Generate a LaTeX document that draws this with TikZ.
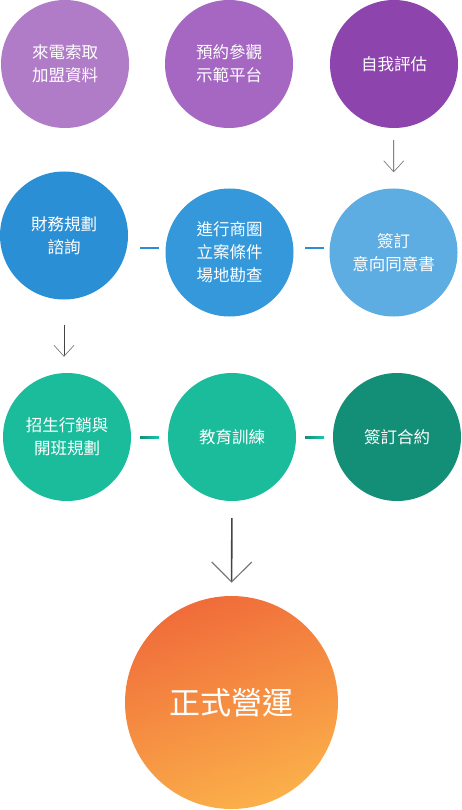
\documentclass[tikz,border=0pt]{standalone}
\usepackage{fontspec}
\setmainfont{Noto Sans CJK TC}
\usetikzlibrary{arrows.meta}
\definecolor{pA}{HTML}{B07BC7}
\definecolor{pB}{HTML}{A567C2}
\definecolor{pC}{HTML}{8E44AD}
\definecolor{bA}{HTML}{2A8FD5}
\definecolor{bB}{HTML}{3498DB}
\definecolor{bC}{HTML}{5DADE2}
\definecolor{tA}{HTML}{1ABC9C}
\definecolor{tB}{HTML}{148F77}
\definecolor{oA}{HTML}{F06C3A}
\definecolor{oB}{HTML}{FBB04A}
\definecolor{arr}{HTML}{444444}
\definecolor{arrh}{HTML}{7A7A7A}
\begin{document}
\begin{tikzpicture}[x=1pt,y=-1pt,
  stepcirc/.style={circle,minimum size=128pt,inner sep=0pt,text=white,align=center,
    font=\fontsize{16.5}{23}\selectfont},
  smallarrow/.style={draw=arr,line width=0.8pt,
    -{Straight Barb[length=11pt,width=20pt,line width=0.7pt,color=arrh]}},
  bigarrow/.style={draw=arr,line width=1.6pt,
    -{Straight Barb[length=20pt,width=40pt,line width=1.2pt,color=arrh]}},
  link/.style={line width=2pt}]
\useasboundingbox (0,0) rectangle (461,810);
% row 1
\node[stepcirc,fill=pA] (c1) at (65,64) {來電索取\\加盟資料};
\node[stepcirc,fill=pB] (c2) at (229,64) {預約參觀\\示範平台};
\node[stepcirc,fill=pC] (c3) at (394,64) {自我評估};
% row 2
\node[stepcirc,fill=bA] (c4) at (64,235.5) {財務規劃\\諮詢};
\node[stepcirc,fill=bB] (c5) at (229.5,252.5) {進行商圈\\立案條件\\場地勘查};
\node[stepcirc,fill=bC] (c6) at (393.5,252.5) {簽訂\\意向同意書};
% row 3
\node[stepcirc,fill=tA] (c7) at (67,437) {招生行銷與\\開班規劃};
\node[stepcirc,fill=tA] (c8) at (232,437) {教育訓練};
\node[stepcirc,fill=tB] (c9) at (397,437) {簽訂合約};
% final
\node[circle,minimum size=213pt,inner sep=0pt,text=white,
  shading=axis,top color=oA,bottom color=oB,shading angle=20,
  font=\fontsize{31}{36}\selectfont] (c10) at (231.5,702.5) {正式營運};
% arrows
\draw[smallarrow,shorten <=12pt,shorten >=16pt] (c3) -- (c6);
\draw[smallarrow,shorten <=25pt,shorten >=16pt] (c4.south) ++(0,0) coordinate (c4s) (c4s) -- (c7.north -| c4s);
\draw[bigarrow,shorten <=17pt,shorten >=13pt] (c8.south) -- (c10.north);
% connectors row 2
\coordinate (d1a) at (140,248); \coordinate (d1b) at (159,248);
\coordinate (d2a) at (305,248); \coordinate (d2b) at (324,248);
\draw[link,draw=bA] (d1a) -- (d1b);
\draw[link,draw=bA] (d2a) -- (d2b);
% connectors row 3
\shade[left color=tB,right color=tA!80!cyan] (140,436) rectangle (159,438);
\shade[left color=tB,right color=tA!80!cyan] (305,436) rectangle (324,438);
\end{tikzpicture}
\end{document}
